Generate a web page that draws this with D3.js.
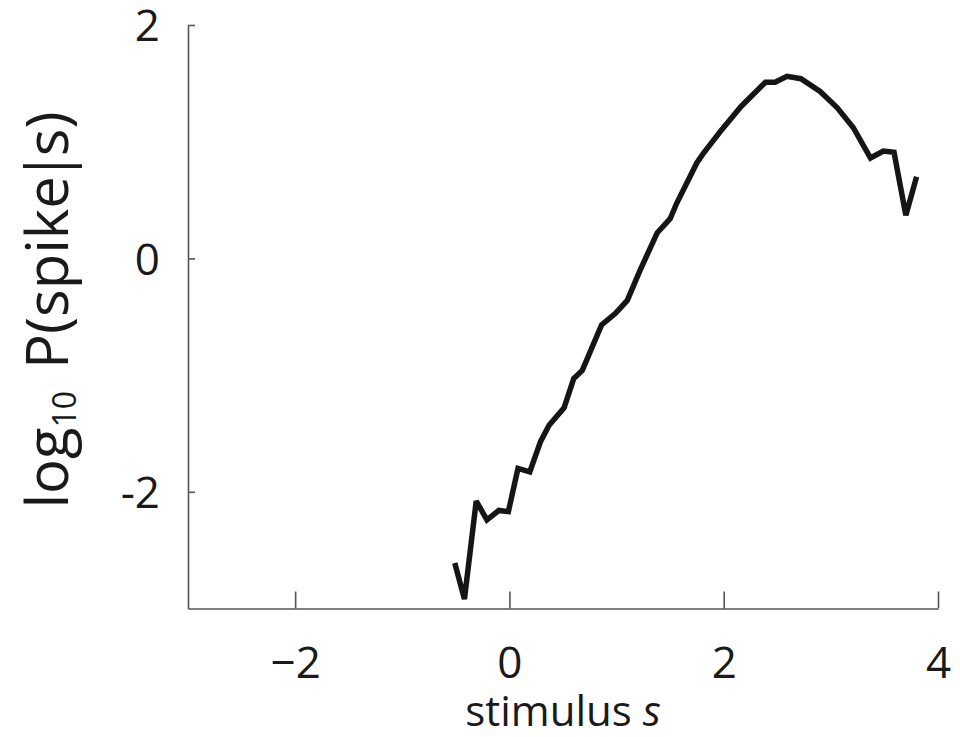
<!DOCTYPE html>
<html>
<head>
<meta charset="utf-8">
<script src="https://cdn.jsdelivr.net/npm/d3@7"></script>
<style>
  html,body{margin:0;padding:0;background:#fff;}
  svg text{font-family:"Open Sans","Noto Sans",sans-serif;fill:#1a1a1a;}
</style>
</head>
<body>
<div id="chart"></div>
<script>
// stimulus s vs log10 P(spike|s)
const stimulus=[-0.51,-0.42,-0.31,-0.21,-0.10,-0.01,0.08,0.19,0.29,0.37,0.51,0.60,0.68,0.86,0.99,1.10,1.22,1.38,1.50,1.56,1.75,1.81,1.97,2.16,2.39,2.48,2.59,2.72,2.90,3.06,3.21,3.37,3.49,3.59,3.62,3.70,3.80];
const logP=[-2.61,-2.92,-2.08,-2.24,-2.16,-2.17,-1.80,-1.83,-1.57,-1.43,-1.28,-1.03,-0.96,-0.57,-0.47,-0.36,-0.10,0.22,0.34,0.47,0.82,0.90,1.09,1.30,1.51,1.51,1.56,1.54,1.43,1.29,1.12,0.86,0.92,0.91,0.76,0.37,0.70];
const xTicks=[-2,0,2,4];
const yTicks=[-2,0,2];

const W=960,H=737;
const svg=d3.select("#chart").append("svg").attr("width",W).attr("height",H);
const x=d3.scaleLinear().domain([-3,4]).range([188,938]);
const y=d3.scaleLinear().domain([-3,2]).range([608.5,25]);

const axisCol="#555";
const gx=svg.append("g").attr("transform",`translate(0,${y(-3)})`)
  .call(d3.axisBottom(x).tickValues(xTicks).tickSizeInner(-17).tickSizeOuter(0).tickPadding(38)
    .tickFormat(d=>d<0?"\u2212"+Math.abs(d):d));
const gy=svg.append("g").attr("transform",`translate(${x(-3)},0)`)
  .call(d3.axisLeft(y).tickValues(yTicks).tickSizeInner(-7).tickSizeOuter(0).tickPadding(28)
    .tickFormat(d=>d<0?"-"+Math.abs(d):d));
[gx,gy].forEach(g=>{
  g.select(".domain").attr("stroke",axisCol).attr("stroke-width",1.6);
  g.selectAll(".tick line").attr("stroke",axisCol).attr("stroke-width",1.6);
  g.selectAll(".tick text").attr("font-size",44).attr("fill","#1a1a1a")
    .style("font-family","'Open Sans','Noto Sans',sans-serif");
});
gy.selectAll(".tick text").attr("dy","0.36em");

const line=d3.line().x((d,i)=>x(stimulus[i])).y(d=>y(d));
svg.append("path").datum(logP).attr("d",line)
  .attr("fill","none").attr("stroke","#151515").attr("stroke-width",5.5)
  .attr("stroke-linejoin","miter").attr("stroke-miterlimit",3).attr("stroke-linecap","butt");

// axis titles
const xl=svg.append("text").attr("x",(x(-3)+x(4))/2).attr("y",726)
  .attr("text-anchor","middle").attr("font-size",42);
xl.append("tspan").text("stimulus ");
xl.append("tspan").attr("font-style","italic").text("s");

const yl=svg.append("text").attr("transform",`translate(68,${310}) rotate(-90)`)
  .attr("text-anchor","middle").attr("font-size",58);
yl.append("tspan").text("log");
yl.append("tspan").attr("font-size",32).attr("dy",8).text("10");
yl.append("tspan").attr("dy",-8).attr("dx",22).text("P(spike");
yl.append("tspan").attr("dx",-6).text("|");
yl.append("tspan").attr("dx",-6).text("s)");
</script>
</body>
</html>
